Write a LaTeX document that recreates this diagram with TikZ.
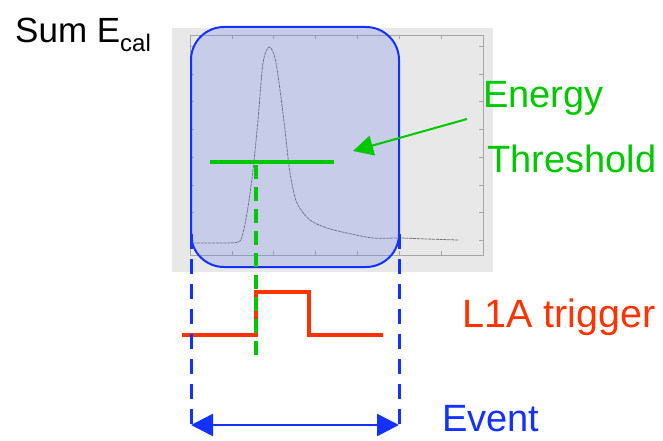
\documentclass[tikz,border=0pt]{standalone}
\usepackage{fontspec}
\setmainfont{Liberation Sans}
\usetikzlibrary{arrows.meta}
\definecolor{calgreen}{RGB}{0,200,0}
\definecolor{trigred}{RGB}{255,51,0}
\definecolor{evblue}{RGB}{20,50,255}
\definecolor{plotgray}{RGB}{232,232,232}
\definecolor{winfill}{RGB}{104,124,232}
\begin{document}
\begin{tikzpicture}[x=1pt, y=-1pt,
  lbl/.style={anchor=base west, inner sep=0pt, font=\fontsize{38}{40}\selectfont}]
\useasboundingbox (0,0) rectangle (663,441);

% plot screenshot
\fill[plotgray] (172,28) rectangle (493,272);
\draw[gray!70, line width=0.8pt] (190,35) rectangle (483,255);
\foreach \x in {232,273,315,357,399,441} {
  \draw[gray!70] (\x,255) -- (\x,251);
  \draw[gray!70] (\x,35) -- (\x,39);
}
\foreach \y in {46,74,101,129,157,185,212,240} {
  \draw[gray!70] (190,\y) -- (194,\y);
  \draw[gray!70] (483,\y) -- (479,\y);
}
\draw[black!55, line width=0.8pt, dash pattern=on 3pt off 0.8pt] plot[smooth, tension=0.5] coordinates {
  (193,243) (215,243) (238,242) (243,233) (248,207) (253,170) (258,120)
  (263,63) (269,47) (275,58) (280,90) (285,130) (290,173) (297,203)
  (310,220) (327,228) (347,233) (373,238) (400,238) (427,239) (458,240)};

% window
\node[draw=evblue, line width=2pt, rounded corners=33pt, fill=winfill, fill opacity=0.25,
  minimum width=208pt, minimum height=240pt] (window) at (295,147) {};

% threshold
\draw[calgreen, line width=4pt] (210,162) -- (334,162);
\coordinate (arrow tail) at (467,119);
\coordinate (arrow tip) at (353,151);
\draw[calgreen, line width=2pt, -{Triangle[length=20pt, width=20pt]}] (arrow tail) -- (arrow tip);

% trigger signal
\draw[trigred, line width=3.5pt] (182,335) -- (256,335) -- (256,292) -- (309,292) -- (309,335) -- (383,335);
\draw[calgreen, line width=3.5pt, dash pattern=on 14pt off 8pt] (256,165) -- (256,358);

% event
\coordinate (ev west) at (191,425);
\coordinate (ev east) at (399,425);
\draw[evblue, line width=3pt, dash pattern=on 15pt off 10pt] (191,234) -- (ev west);
\draw[evblue, line width=3pt, dash pattern=on 15pt off 10pt] (399,234) -- (ev east);
\draw[evblue, line width=2.5pt, {Triangle[length=22pt, width=22pt]}-{Triangle[length=22pt, width=22pt]}] (ev west) -- (ev east);

\node[lbl, font=\fontsize{35}{40}\selectfont] (sumcal) at (15,43) {Sum E\raisebox{-9pt}{\fontsize{24}{26}\selectfont cal}};
\node[lbl, text=calgreen] (energy) at (483,107) {Energy};
\node[lbl, text=calgreen] (threshold) at (487,172) {Threshold};
\node[lbl, text=trigred, font=\fontsize{39.5}{40}\selectfont] (trigger) at (462,327) {L1A trigger};
\node[lbl, text=evblue] (event) at (442,431) {Event};
\end{tikzpicture}
\end{document}
